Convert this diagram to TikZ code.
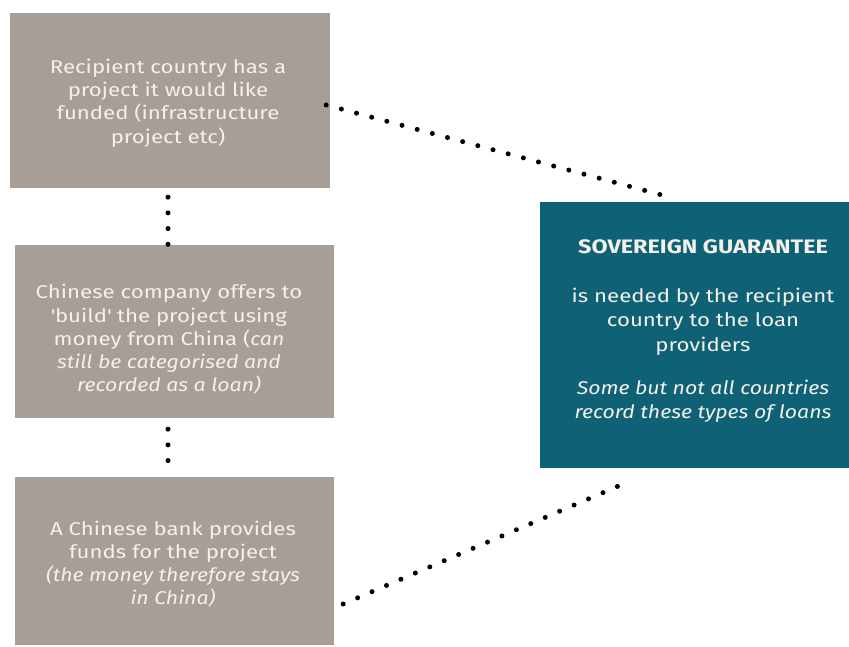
\documentclass[tikz,border=0pt]{standalone}
\usepackage{fontspec}
\setmainfont{Fira Sans}[FakeStretch=1.2, ItalicFeatures={FakeStretch=1.15}]
\usetikzlibrary{calc}
\definecolor{boxgray}{HTML}{A79F97}
\definecolor{guaranteeteal}{HTML}{0F6276}
\definecolor{boxtext}{HTML}{F4F0EA}
\begin{document}
\begin{tikzpicture}[x=1pt,y=-1pt,
  stepbox/.style={fill=boxgray, inner sep=0pt},
  keybox/.style={fill=guaranteeteal, inner sep=0pt},
  steptext/.style={text=boxtext, inner sep=0pt, align=center,
    font=\fontsize{18.5}{23.2}\selectfont},
  keytext/.style={text=boxtext, inner sep=0pt, align=center,
    font=\fontsize{18.5}{24.3}\selectfont},
  dotline/.style={line width=5pt, line cap=round, dash pattern=on 0pt off 15.7pt}]
\useasboundingbox (0,0) rectangle (849,647);
\fill[white] (0,0) rectangle (849,647);

% the three steps on the left
\node[stepbox, minimum width=320pt, minimum height=175pt] (need) at (170,100.5) {};
\node[steptext] (needtext) at (168,103)
  {Recipient country has a\\project it would like\\funded (infrastructure\\project etc)};

\node[stepbox, minimum width=319pt, minimum height=173pt] (build) at (174.5,331.5) {};
\node[steptext] (buildtext) at (169,339.5)
  {Chinese company offers to\\\textquotesingle build\textquotesingle\ the project using\\money from China (\textit{can}\\\textit{still be categorised and}\\\textit{recorded as a loan)}};

\node[stepbox, minimum width=319pt, minimum height=168pt] (bank) at (174.5,561) {};
\node[steptext] (banktext) at (173,564)
  {A Chinese bank provides\\funds for the project\\\textit{(the money therefore stays}\\\textit{in China)}};

% the guarantee panel, running off the right edge
\begin{scope}
\clip (0,0) rectangle (849,647);
\node[keybox, minimum width=326pt, minimum height=266pt] (guarantee) at (703,335) {};
\end{scope}
\node[keytext] (guaranteetext) at (703,331)
  {{\fontsize{19.5}{24.3}\selectfont\textbf{SOVEREIGN GUARANTEE}}\\[25pt]
   is needed by the recipient\\country to the loan\\providers\\[19pt]
   \textit{Some but not all countries}\\\textit{record these types of loans}};

% dotted connectors
\coordinate (needout) at ($(need.east)+(-4,4.5)$);
\coordinate (guarin) at ($(guarantee.north)+(-42,-7)$);
\coordinate (bankout) at ($(bank.east)+(9,43)$);
\coordinate (guarlow) at ($(guarantee.south)+(-85,18)$);
\coordinate (needdown) at ($(need.south)+(-2,9)$);
\coordinate (buildup) at ($(build.north)+(-6.5,-0.5)$);
\coordinate (builddown) at ($(build.south)+(-6.5,11)$);
\coordinate (bankup) at ($(bank.north)+(-6.5,-2)$);

\draw[dotline] (needout) -- (guarin);
\draw[dotline] (bankout) -- (guarlow);
\draw[dotline] (needdown) -- (buildup);
\draw[dotline] (builddown) -- (bankup);
\end{tikzpicture}
\end{document}
